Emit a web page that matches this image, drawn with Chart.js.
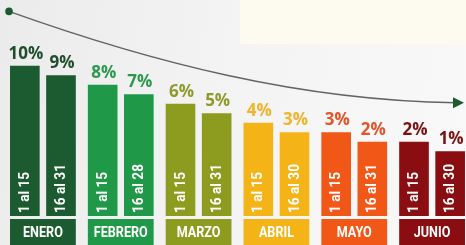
<!DOCTYPE html>
<html>
<head>
<meta charset="utf-8">
<script src="https://cdn.jsdelivr.net/npm/chart.js@4"></script>
<style>
  html, body { margin: 0; padding: 0; overflow: hidden; }
  body {
    width: 466px; height: 245px;
    background: linear-gradient(100deg, #ebebeb 0%, #f3f3f3 45%, #f9f9f9 100%);
    position: relative;
  }
  #cream { position: absolute; left: 240px; top: 0; width: 226px; height: 44px; background: #fdfaef; }
  #wrap { position: absolute; left: 0; top: 0; width: 471px; height: 245px; }
</style>
</head>
<body>
<div id="cream"></div>
<div id="wrap"><canvas id="myChart"></canvas></div>
<script>
var months = ["ENERO", "FEBRERO", "MARZO", "ABRIL", "MAYO", "JUNIO"];
var firstHalf = [10, 8, 6, 4, 3, 2];
var secondHalf = [9, 7, 5, 3, 2, 1];
var firstLabels = ["1 al 15", "1 al 15", "1 al 15", "1 al 15", "1 al 15", "1 al 15"];
var secondLabels = ["16 al 31", "16 al 28", "16 al 31", "16 al 30", "16 al 31", "16 al 30"];
var barColors = ["#1b5b2f", "#1f9947", "#8d9b1f", "#f4b417", "#f15817", "#8a0e11"];
var textColors = ["#1f4e2d", "#2a994d", "#8e9a2b", "#f0b42a", "#e2542a", "#7a1214"];

var yMin = -5.8, yMax = 16.9;

var decor = {
  id: 'decor',
  afterDatasetsDraw: function(chart) {
    var ctx = chart.ctx;
    var y = chart.scales.y;
    var m0 = chart.getDatasetMeta(0).data;
    var m1 = chart.getDatasetMeta(1).data;
    var bottom = chart.chartArea.bottom;
    ctx.save();

    // trend arrow
    var x0 = m0[0].x - m0[0].width / 2 - 1;
    var x3 = m1[5].x + m1[5].width / 2 - 1;
    var y0 = y.getPixelForValue(15.7), y3 = y.getPixelForValue(6.1);
    ctx.strokeStyle = '#5f6660';
    ctx.lineWidth = 1.4;
    ctx.beginPath();
    ctx.moveTo(x0, y0);
    ctx.bezierCurveTo(150, y.getPixelForValue(10.4), 300, y.getPixelForValue(6.3), x3 - 8, y3);
    ctx.stroke();
    ctx.fillStyle = '#1b5b2f';
    ctx.beginPath();
    ctx.moveTo(x3, y3);
    ctx.lineTo(x3 - 11, y3 - 5.5);
    ctx.lineTo(x3 - 11, y3 + 5.5);
    ctx.closePath();
    ctx.fill();
    ctx.beginPath();
    ctx.arc(x0, y0, 3.8, 0, Math.PI * 2);
    ctx.fill();

    for (var i = 0; i < months.length; i++) {
      var a = m0[i], b = m1[i];
      // value labels
      ctx.fillStyle = textColors[i];
      ctx.font = 'bold 17px "Open Sans"';
      ctx.textAlign = 'center';
      ctx.textBaseline = 'alphabetic';
      ctx.fillText(firstHalf[i] + '%', a.x + 1, a.y - 7);
      ctx.fillText(secondHalf[i] + '%', b.x + 1, b.y - 7);

      // rotated labels in bars
      ctx.fillStyle = '#ffffff';
      ctx.font = 'bold 14.5px Roboto';
      ctx.textAlign = 'left';
      ctx.textBaseline = 'middle';
      [[a, firstLabels[i]], [b, secondLabels[i]]].forEach(function(p) {
        ctx.save();
        ctx.translate(p[0].x + 0.5, bottom - 3);
        ctx.rotate(-Math.PI / 2);
        ctx.scale(0.94, 1);
        ctx.fillText(p[1], 0, 0);
        ctx.restore();
      });

      // month boxes
      var left = a.x - a.width / 2, right = b.x + b.width / 2;
      ctx.fillStyle = barColors[i];
      ctx.fillRect(left, bottom + 3, right - left, 30);
      ctx.fillStyle = '#ffffff';
      ctx.font = 'bold 15px Roboto';
      ctx.textAlign = 'center';
      ctx.textBaseline = 'middle';
      ctx.save();
      ctx.translate((left + right) / 2, bottom + 17);
      ctx.scale(0.84, 1);
      ctx.fillText(months[i], 0, 0);
      ctx.restore();
    }
    ctx.restore();
  }
};

new Chart(document.getElementById("myChart"), {
  type: 'bar',
  data: {
    labels: months,
    datasets: [
      { label: "1 al 15", data: firstHalf, backgroundColor: barColors, base: yMin },
      { label: "16 al fin", data: secondHalf, backgroundColor: barColors, base: yMin }
    ]
  },
  options: {
    responsive: true,
    maintainAspectRatio: false,
    animation: false,
    categoryPercentage: 0.929,
    barPercentage: 0.82,
    layout: { padding: { left: 4, right: 0, top: 0, bottom: 29 } },
    plugins: { legend: { display: false }, tooltip: { enabled: false } },
    scales: {
      x: { display: false },
      y: { display: false, min: yMin, max: yMax }
    }
  },
  plugins: [decor]
});
</script>
</body>
</html>
